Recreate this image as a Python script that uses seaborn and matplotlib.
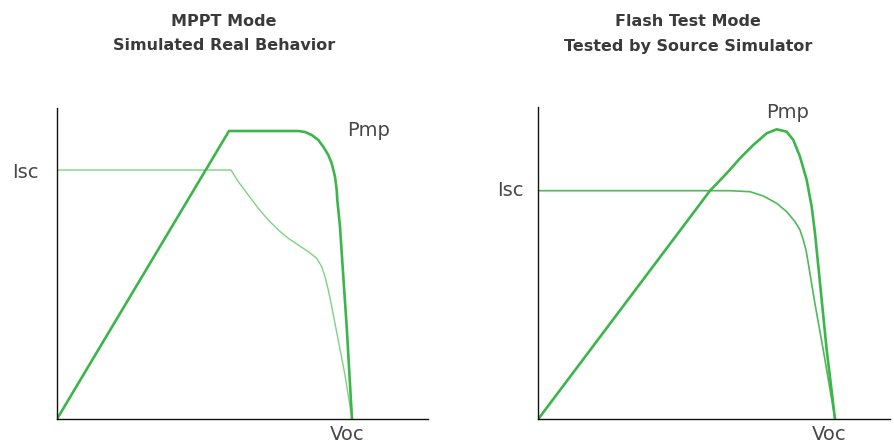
import matplotlib
matplotlib.use("Agg")
import matplotlib.pyplot as plt
import seaborn as sns
import pandas as pd

# ---- data (pixel-like units relative to each panel origin) ----
mppt_power_x = [0, 172, 228, 241.3, 248, 254.7, 261.3, 266.3, 271.3, 274.7, 278, 279.7, 280.3, 283, 286.3, 289.7, 295]
mppt_power_y = [0, 288, 288, 288, 287, 284, 279, 272.3, 264, 255.7, 242.3, 229, 219, 192.3, 142.3, 92.3, 0]
mppt_curr_x = [0, 174, 181.3, 191.3, 201.3, 211.3, 221.3, 231.3, 241.3, 251.3, 259.7, 264.7, 268, 271.3, 274.8, 281, 287.8, 295]
mppt_curr_y = [249, 249, 237.3, 224, 210.7, 199, 189, 180.7, 174, 167.3, 160.7, 152.3, 142.3, 129, 112, 80, 45, 0]

flash_power_x = [0, 171.7, 188.4, 201.7, 215, 228.4, 238.4, 248.4, 255, 261.7, 268.4, 273.4, 276.7, 278.4, 281.7, 288.4, 296.7]
flash_power_y = [0, 228.3, 245.7, 260.7, 274, 285.7, 289.7, 287.3, 279, 262.3, 239, 212.3, 185.7, 169, 136, 69, 0]
flash_curr_x = [0, 191.7, 211.7, 225, 238.4, 248.4, 256.7, 261.7, 265, 267.7, 270, 276, 285.5, 296.7]
flash_curr_y = [228.3, 228.3, 227.3, 223, 215.7, 207.3, 197.3, 189, 179, 169, 155.7, 119, 66, 0]

titles = ["MPPT Mode\nSimulated Real Behavior", "Flash Test Mode\nTested by Source Simulator"]

sns.set_style("white")
plt.rcParams['font.family'] = ['DejaVu Sans']

W, H = 895, 445
fig = plt.figure(figsize=(W / 100, H / 100), dpi=100)

def px_axes(x0, y_top, x1, y_bot):
    return fig.add_axes([x0 / W, (H - y_bot) / H, (x1 - x0) / W, (y_bot - y_top) / H])

ax1 = px_axes(57, 108, 428, 419)
ax2 = px_axes(538.3, 107, 890, 419)

thick = "#3cb54a"
thin_l = "#7fd283"
thin_r = "#4cbb56"

df1p = pd.DataFrame({"x": mppt_power_x, "y": mppt_power_y})
df1c = pd.DataFrame({"x": mppt_curr_x, "y": mppt_curr_y})
df2p = pd.DataFrame({"x": flash_power_x, "y": flash_power_y})
df2c = pd.DataFrame({"x": flash_curr_x, "y": flash_curr_y})

common = dict(x="x", y="y", sort=False, estimator=None)
sns.lineplot(data=df1c, ax=ax1, color=thin_l, lw=1.0, **common)
sns.lineplot(data=df1p, ax=ax1, color=thick, lw=1.9, **common)
sns.lineplot(data=df2c, ax=ax2, color=thin_r, lw=1.2, **common)
sns.lineplot(data=df2p, ax=ax2, color=thick, lw=1.9, **common)

ax1.set_xlim(0, 371); ax1.set_ylim(0, 311)
ax2.set_xlim(0, 351.7); ax2.set_ylim(0, 312)

for ax in (ax1, ax2):
    ax.set_xticks([]); ax.set_yticks([])
    ax.set_xlabel(""); ax.set_ylabel("")
    ax.patch.set_alpha(0)
    for s in ("top", "right"):
        ax.spines[s].set_visible(False)
    for s in ("left", "bottom"):
        ax.spines[s].set_color("#111111")
        ax.spines[s].set_linewidth(1.0)
    for line in ax.lines:
        line.set_solid_joinstyle("round")
        line.set_solid_capstyle("round")

def ftext(x, y, s, **kw):
    fig.text(x / W, 1 - y / H, s, **kw)

tkw = dict(ha="center", va="center", fontsize=11.5, fontweight="bold", color="#3a3a3a", linespacing=1.75)
ftext(224, 34, titles[0], **tkw)
ftext(688, 34, titles[1], **tkw)

lkw = dict(ha="center", va="center", fontsize=14, fontweight="normal", color="#484848")
ftext(25, 172, "Isc", **lkw)
ftext(369, 130, "Pmp", **lkw)
ftext(347, 434, "Voc", **lkw)
ftext(510, 191, "Isc", **lkw)
ftext(788, 113, "Pmp", **lkw)
ftext(829, 434, "Voc", **lkw)

fig.savefig("out.png", dpi=100)
